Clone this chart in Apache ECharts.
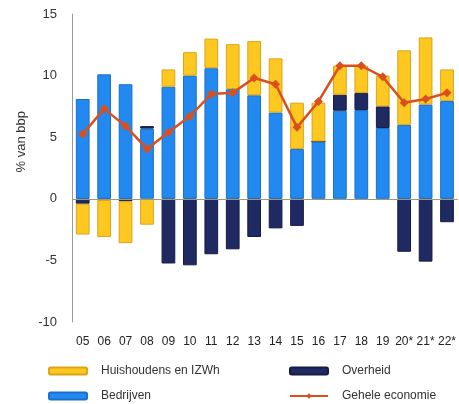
<!DOCTYPE html>
<html><head><meta charset="utf-8">
<script src="https://cdn.jsdelivr.net/npm/echarts@6/dist/echarts.min.js"></script>
<style>html,body{margin:0;padding:0;background:#fff}#c{width:459px;height:404px}</style>
</head><body><div id="c"></div>
<script>
const categories = ['05','06','07','08','09','10','11','12','13','14','15','16','17','18','19','20*','21*','22*'];
const bedrijven = [8.1,10.1,9.3,5.7,9.1,10.0,10.6,8.9,8.4,7.0,4.05,4.65,7.15,7.2,5.75,6.0,7.65,7.95];
const overheid = [-0.4,-0.1,-0.2,0.2,-5.25,-5.4,-4.5,-4.1,-3.1,-2.4,-2.2,0,1.3,1.4,1.75,-4.3,-5.1,-1.9];
const huishoudens = [-2.5,-3.0,-3.4,-2.1,1.4,1.9,2.4,3.65,4.4,4.4,3.75,3.15,2.35,2.2,2.5,6.05,5.45,2.55];
const geheel = [5.25,7.3,5.9,4.05,5.4,6.7,8.5,8.6,9.8,9.3,5.8,7.9,10.8,10.8,9.9,7.8,8.1,8.6];
const yTicks = [-10,-5,0,5,10,15];

const font = 'Liberation Sans, Arial, sans-serif';
const chart = echarts.init(document.getElementById('c'), null, {renderer:'canvas'});
const legendBase = {orient:'horizontal', itemWidth:38, itemHeight:7, itemGap:10,
  textStyle:{fontFamily:font, fontSize:12, color:'#333', padding:[0,0,0,9]}, selectedMode:false};
chart.setOption({
  animation:false,
  grid:{left:72, right:0, top:14, bottom:82, containLabel:false},
  legend:[
    Object.assign({left:43, top:360, data:['Huishoudens en IZWh']}, legendBase),
    Object.assign({left:284, top:360, data:['Overheid']}, legendBase),
    Object.assign({left:43, top:385, data:['Bedrijven']}, legendBase),
    Object.assign({left:284, top:385, data:['Gehele economie']}, legendBase)
  ],
  graphic:[{type:'text', left:15, top:111, rotation:Math.PI/2,
    style:{text:'% van bbp', font:'13px '+font, fill:'#333'}}],
  xAxis:{type:'category', data:categories,
    axisLine:{show:false}, axisTick:{show:false},
    axisLabel:{interval:0, fontFamily:font, fontSize:12, color:'#222', margin:14}},
  yAxis:{type:'value', min:-10, max:15, interval:5,
    axisLine:{show:true, onZero:false, lineStyle:{color:'#999', width:1}},
    axisTick:{show:false}, splitLine:{show:false},
    axisLabel:{fontFamily:font, fontSize:13, color:'#333', margin:15,
      customValues: yTicks}},
  series:[
    {name:'Bedrijven', type:'bar', stack:'a', data:bedrijven, barCategoryGap:'36%',
      itemStyle:{color:'#2289F0', borderColor:'#1A6FC9', borderWidth:1},
      markLine:{silent:true, symbol:'none', label:{show:false},
        lineStyle:{color:'#9A9A7A', width:1, type:'solid'}, data:[{yAxis:0}]}},
    {name:'Overheid', type:'bar', stack:'a', data:overheid,
      itemStyle:{color:'#1F2A63', borderColor:'#141C45', borderWidth:1}},
    {name:'Huishoudens en IZWh', type:'bar', stack:'a', data:huishoudens,
      itemStyle:{color:'#FFC820', borderColor:'#D9A514', borderWidth:1}},
    {name:'Gehele economie', type:'line', data:geheel, symbol:'diamond', symbolSize:9,
      lineStyle:{color:'#D9501E', width:2.5}, itemStyle:{color:'#D9501E'}, z:5}
  ]
});
</script></body></html>
